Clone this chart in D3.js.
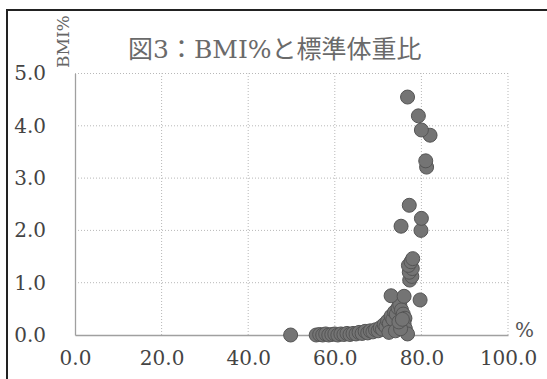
<!DOCTYPE html>
<html><head><meta charset="utf-8">
<script src="https://cdn.jsdelivr.net/npm/d3@7"></script>
<style>html,body{margin:0;padding:0;background:#fff;}svg{display:block;}</style>
</head><body>
<svg id="c" width="547" height="379"></svg>
<script>
const titleText = "図3：BMI%と標準体重比";
const yAxisTitle = "BMI%";
const xAxisTitle = "%";
const xTicks = [0, 20, 40, 60, 80, 100];
const yTicks = [0, 1, 2, 3, 4, 5];
// 標準体重比 (%)
const weightRatio = [49.8,55.7,56.5,57.2,57.9,58.6,59.3,60.0,60.7,61.4,62.1,62.8,63.5,64.2,64.9,65.6,66.3,67.0,67.6,68.2,68.8,69.4,70.0,70.5,71.0,71.4,71.8,72.2,72.6,73.0,73.4,73.8,74.2,74.6,75.0,75.4,75.8,76.2,76.0,76.3,76.8,72.5,74.0,75.2,74.8,75.6,73.0,76.0,79.7,77.3,77.8,77.2,77.9,77.0,77.6,78.0,75.3,79.9,80.0,77.2,81.2,81.0,82.0,80.0,79.3,76.8];
// BMI%
const bmiPct = [0.00,0.00,0.01,0.00,0.02,0.00,0.01,0.02,0.00,0.02,0.01,0.03,0.01,0.03,0.02,0.05,0.03,0.07,0.04,0.08,0.06,0.10,0.08,0.14,0.11,0.20,0.16,0.27,0.22,0.36,0.30,0.44,0.40,0.52,0.58,0.48,0.40,0.32,0.22,0.12,0.02,0.05,0.08,0.12,0.25,0.30,0.75,0.74,0.67,1.05,1.12,1.20,1.27,1.33,1.40,1.46,2.08,2.00,2.23,2.48,3.21,3.33,3.82,3.92,4.19,4.55];

const svg = d3.select("#c");
const x = d3.scaleLinear().domain([0, 100]).range([75, 508]);
const y = d3.scaleLinear().domain([0, 5]).range([335, 73.5]);
const serif = "'DejaVu Serif', 'Noto Sans CJK JP', serif";

// frame
svg.append("path").attr("d", "M7,390 L7,10 L560,10")
  .attr("fill", "none").attr("stroke", "#222").attr("stroke-width", 2);

// title
svg.append("text").attr("x", 128).attr("y", 58)
  .attr("font-family", serif).attr("font-size", 25).attr("fill", "#6a6a6a")
  .text(titleText);

// gridlines
const g = svg.append("g");
g.selectAll(".hg").data(yTicks.filter(d => d > 0)).join("line")
  .attr("x1", x(0)).attr("x2", x(100))
  .attr("y1", d => y(d)).attr("y2", d => y(d))
  .attr("stroke", "#b8b8b8").attr("stroke-width", 1).attr("stroke-dasharray", "1,2");
g.selectAll(".vg").data(xTicks.filter(d => d > 0)).join("line")
  .attr("x1", d => x(d)).attr("x2", d => x(d))
  .attr("y1", y(0)).attr("y2", y(5))
  .attr("stroke", "#b8b8b8").attr("stroke-width", 1).attr("stroke-dasharray", "1,2");

// axes
const xAxis = svg.append("g").attr("transform", `translate(0,${y(0)})`)
  .call(d3.axisBottom(x).tickValues(xTicks).tickSize(0).tickPadding(16).tickFormat(d3.format(".1f")));
const yAxis = svg.append("g").attr("transform", `translate(${x(0)},0)`)
  .call(d3.axisLeft(y).tickValues(yTicks).tickSize(0).tickPadding(29).tickFormat(d3.format(".1f")));
[xAxis, yAxis].forEach(a => {
  a.select(".domain").attr("stroke", "#a0a0a0").attr("stroke-width", 1.3);
  a.selectAll("text").attr("font-family", serif).attr("font-size", 20).attr("fill", "#444");
});

// axis titles
svg.append("text").attr("transform", "translate(69,68) rotate(-90)")
  .attr("font-family", serif).attr("font-size", 17).attr("fill", "#666")
  .text(yAxisTitle);
svg.append("text").attr("x", 515).attr("y", 337)
  .attr("font-family", serif).attr("font-size", 20).attr("fill", "#555")
  .text(xAxisTitle);

// points
svg.append("g").selectAll("circle").data(weightRatio.map((v, i) => [v, bmiPct[i]])).join("circle")
  .attr("cx", d => x(d[0])).attr("cy", d => y(d[1])).attr("r", 7)
  .attr("fill", "#747474").attr("stroke", "#555").attr("stroke-width", 1);
</script>
</body></html>
